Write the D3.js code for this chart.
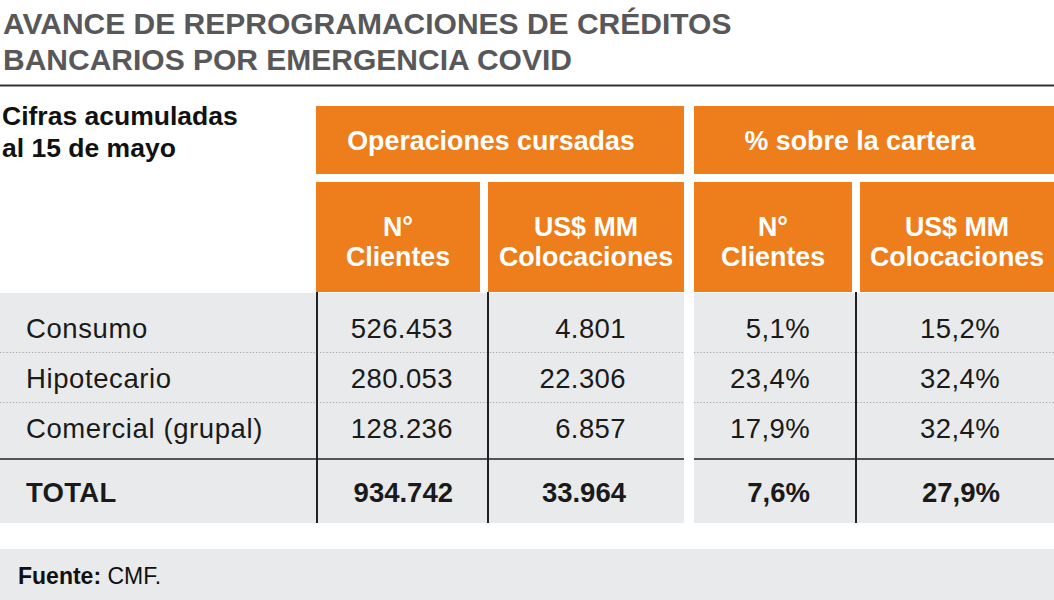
<!DOCTYPE html>
<html>
<head>
<meta charset="utf-8">
<script src="https://cdn.jsdelivr.net/npm/d3@7/dist/d3.min.js"></script>
<style>
  html, body { margin: 0; padding: 0; background: #fff; }
  svg { display: block; font-family: "Liberation Sans", Arial, Helvetica, sans-serif; }
</style>
</head>
<body>
<svg id="chart" width="1054" height="600"></svg>
<script>
// ---------- DATA ----------
const titleLines = ["AVANCE DE REPROGRAMACIONES DE CRÉDITOS", "BANCARIOS POR EMERGENCIA COVID"];
const subtitleLines = ["Cifras acumuladas", "al 15 de mayo"];
const groupHeaders = ["Operaciones cursadas", "% sobre la cartera"];
const columnHeaders = [["N°", "Clientes"], ["US$ MM", "Colocaciones"], ["N°", "Clientes"], ["US$ MM", "Colocaciones"]];
const categories = ["Consumo", "Hipotecario", "Comercial (grupal)"];
const clientes = [526453, 280053, 128236];
const colocaciones = [4801, 22306, 6857];
const pctClientes = [5.1, 23.4, 17.9];
const pctColocaciones = [15.2, 32.4, 32.4];
const totalLabel = "TOTAL";
const totals = [934742, 33964, 7.6, 27.9];
const sourceLabel = "Fuente:";
const sourceText = " CMF.";

// ---------- FORMAT ----------
const loc = d3.formatLocale({ decimal: ",", thousands: ".", grouping: [3], currency: ["$", ""] });
const fInt = loc.format(",d");
const fPct = v => loc.format(".1f")(v) + "%";
const formatters = [fInt, fInt, fPct, fPct];

// ---------- LAYOUT ----------
const W = 1054, H = 600;
const orange = "#ee7d1b", grayBg = "#e9eaeb", titleGray = "#58585a";
const svg = d3.select("#chart");

const cols = [
  { x0: 316, x1: 480, right: 453 },
  { x0: 488, x1: 684, right: 626 },
  { x0: 694, x1: 852, right: 810 },
  { x0: 860, x1: 1054, right: 1000 }
];
const groups = [
  { x0: 316, x1: 684, cx: 491 },
  { x0: 694, x1: 1054, cx: 860 }
];
const sections = [[0, 684], [694, 1054]];

const y = d3.scalePoint().domain(categories).range([338, 438]);
const totalBaseline = 502;
const bodyTop = 293, bodyBottom = 523, totalLineY = 459;

// ---------- TITLE ----------
svg.append("g").selectAll("text").data(titleLines).join("text")
  .attr("x", 3)
  .attr("y", (d, i) => 34 + i * 36)
  .attr("font-size", 30)
  .attr("font-weight", "bold")
  .attr("fill", titleGray)
  .text(d => d);

svg.append("line").attr("x1", 0).attr("x2", W).attr("y1", 85.5).attr("y2", 85.5)
  .attr("stroke", "#333").attr("stroke-width", 2);

// ---------- SUBTITLE ----------
svg.append("g").selectAll("text").data(subtitleLines).join("text")
  .attr("x", 2)
  .attr("y", (d, i) => 125 + i * 32)
  .attr("font-size", 26.5)
  .attr("font-weight", "bold")
  .attr("fill", "#111")
  .text(d => d);

// ---------- HEADERS ----------
const hg = svg.append("g");
hg.selectAll("rect.grp").data(groups).join("rect").attr("class", "grp")
  .attr("x", d => d.x0).attr("y", 106).attr("width", d => d.x1 - d.x0).attr("height", 68)
  .attr("fill", orange);
hg.selectAll("text.grp").data(groupHeaders).join("text").attr("class", "grp")
  .attr("x", (d, i) => groups[i].cx).attr("y", 150)
  .attr("text-anchor", "middle").attr("font-size", 26.8).attr("font-weight", "bold")
  .attr("fill", "#fff").text(d => d);

hg.selectAll("rect.col").data(cols).join("rect").attr("class", "col")
  .attr("x", d => d.x0).attr("y", 182).attr("width", d => d.x1 - d.x0).attr("height", 110)
  .attr("fill", orange);
const colText = hg.selectAll("text.col").data(columnHeaders).join("text").attr("class", "col")
  .attr("text-anchor", "middle").attr("font-size", 26.8).attr("font-weight", "bold").attr("fill", "#fff");
colText.selectAll("tspan").data((d, i) => d.map(t => ({ t, i }))).join("tspan")
  .attr("x", d => (cols[d.i].x0 + cols[d.i].x1) / 2)
  .attr("y", (d, j) => 236 + j * 30)
  .text(d => d.t);

// ---------- BODY BACKGROUND ----------
svg.append("g").selectAll("rect").data(sections).join("rect")
  .attr("x", d => d[0]).attr("y", bodyTop).attr("width", d => d[1] - d[0]).attr("height", bodyBottom - bodyTop)
  .attr("fill", grayBg);

const dividerYs = categories.slice(1).map(c => y(c) - 36);
const lines = svg.append("g");
dividerYs.forEach(dy => {
  sections.forEach(s => {
    lines.append("line").attr("x1", s[0]).attr("x2", s[1]).attr("y1", dy + 0.5).attr("y2", dy + 0.5)
      .attr("stroke", "#a3a3a3").attr("stroke-width", 1.2).attr("stroke-dasharray", "1.2,2");
  });
});
sections.forEach(s => {
  lines.append("line").attr("x1", s[0]).attr("x2", s[1]).attr("y1", totalLineY).attr("y2", totalLineY)
    .attr("stroke", "#555").attr("stroke-width", 2);
});
[317, 488, 856].forEach(vx => {
  lines.append("line").attr("x1", vx).attr("x2", vx).attr("y1", bodyTop - 1).attr("y2", bodyBottom)
    .attr("stroke", "#222").attr("stroke-width", 2);
});

// ---------- BODY TEXT ----------
const body = svg.append("g").attr("fill", "#1a1a1a");
const series = [clientes, colocaciones, pctClientes, pctColocaciones];
body.selectAll("text.lab").data(categories).join("text").attr("class", "lab")
  .attr("x", 26).attr("y", d => y(d))
  .attr("font-size", 27.5).attr("letter-spacing", 0.6).text(d => d);
series.forEach((vals, ci) => {
  body.selectAll("text.v" + ci).data(vals).join("text").attr("class", "v" + ci)
    .attr("x", cols[ci].right).attr("y", (d, i) => y(categories[i]))
    .attr("text-anchor", "end").attr("font-size", 27.5).attr("letter-spacing", 0.4)
    .text(d => formatters[ci](d));
});
body.append("text").attr("x", 26).attr("y", totalBaseline)
  .attr("font-size", 27.5).attr("font-weight", "bold").attr("letter-spacing", 0.3).text(totalLabel);
body.selectAll("text.tot").data(totals).join("text").attr("class", "tot")
  .attr("x", (d, i) => cols[i].right).attr("y", totalBaseline)
  .attr("text-anchor", "end").attr("font-size", 27.5).attr("font-weight", "bold")
  .text((d, i) => formatters[i](d));

// ---------- FOOTER ----------
svg.append("rect").attr("x", 0).attr("y", 549).attr("width", W).attr("height", H - 549).attr("fill", grayBg);
const ft = svg.append("text").attr("x", 18).attr("y", 584).attr("font-size", 23).attr("fill", "#111");
ft.append("tspan").attr("font-weight", "bold").text(sourceLabel);
ft.append("tspan").text(sourceText);
</script>
</body>
</html>
